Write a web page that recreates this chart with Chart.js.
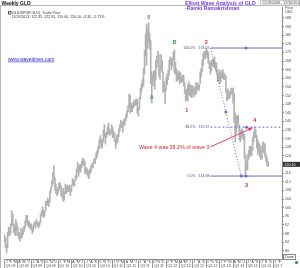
<!DOCTYPE html>
<html>
<head>
<meta charset="utf-8">
<script src="https://cdn.jsdelivr.net/npm/chart.js@4.4.1/dist/chart.umd.min.js"></script>
<style>
  body { margin: 0; background: #fff; }
  canvas { display: block; }
</style>
</head>
<body>
<canvas id="gld" width="300" height="268"></canvas>
<script>
// weekly GLD bars, the first one is the week ending 2009-01-02
const firstWeek = "2009-01-02";
const axisWeeks = 270; // weeks on the x axis, incl. the empty space after the last bar

const weekLow = [
  // 2009
  84, 81.5, 79, 81.5, 87,
  87, 88, 92, 91.5,
  88.5, 87.5, 87, 89.5,
  87, 85.5, 84.5, 86,
  86, 87.5, 89, 90.5, 93,
  92, 91.5, 90.5, 90.5,
  89.5, 88, 89, 91.5, 90.5,
  92.5, 91.5, 90.5, 91.5,
  93, 96, 96.5, 95.5,
  96, 98.5, 101, 101.5, 100.5,
  102.5, 107, 109.5, 111,
  113, 108, 106.5, 105.5,
  // 2010
  106.5, 108, 109, 105.5, 104.5,
  103, 103.5, 106.5, 106.5,
  107.5, 107.5, 107.5, 105.5,
  107.5, 110.5, 110, 110, 112.5,
  113.5, 116.5, 114.5, 116.5,
  116.5, 118.5, 119.5, 120,
  116, 115.5, 115.5, 114.5, 113.5,
  115.5, 116.5, 118.5, 118.5,
  120.5, 120.5, 122.5, 123.5,
  125.5, 127.5, 130, 127.5, 128,
  130.5, 133, 129.5, 132.5,
  134, 134.5, 133.5, 134, 135,
  // 2011
  132.5, 132.5, 130.5, 127.5,
  129.5, 130.5, 133, 135.5,
  137, 137, 135, 138,
  138.5, 140.5, 142, 144.5, 146.5,
  144, 144.5, 144.5, 146,
  147, 147.5, 147.5, 144,
  142.5, 145.5, 150.5, 153.5, 155.5,
  156.5, 162, 170.5, 166,
  174, 177, 173.5, 157.5, 148.5,
  156.5, 158.5, 155, 159.5,
  165, 168, 161, 159.5,
  164, 163, 153.5, 154, 148.3,
  // 2012
  154.5, 157, 159.5, 161.5,
  166.5, 164, 165.5, 168.5,
  162.5, 162, 158.5, 159, 159.5,
  157.5, 158.5, 158, 158.5,
  156.5, 153, 149.4, 150,
  149.5, 152.5, 152, 151.5, 151,
  153, 151.5, 152.5, 152.5,
  154, 155, 154.5, 157.5, 160.5,
  163, 166, 169.5, 169,
  171, 169.5, 167, 164.5,
  162, 163.5, 166, 165.5, 165,
  164, 162.5, 158.5, 159.5,
  // 2013
  157.5, 158.5, 160, 160,
  159.5, 159.5, 153.5, 149.5,
  150.5, 150.5, 151, 152.5, 152.5,
  148.5, 139.5, 130.5, 134.5,
  137.5, 139, 131.5, 130.5, 132,
  133, 131.5, 123, 114.68,
  117.5, 117.5, 122.5, 123.5,
  124.5, 124, 126.5, 130.5, 132.5,
  132.5, 127.5, 124.5, 126.5,
  123.5, 122.5, 122.5, 126,
  125.5, 123.5, 121.5, 119.5, 119
];

const weekHigh = [
  // 2009
  87.5, 86, 83, 88.5, 91,
  90.5, 92.5, 98.6, 97,
  92.5, 91, 94.5, 93,
  91, 88.5, 87.5, 90.5,
  89, 90.5, 91.5, 94, 96.5,
  96.5, 94, 93.5, 92.5,
  92.5, 90.5, 92, 93.5, 93,
  94.5, 93.5, 92.5, 93.5,
  97, 98.5, 100.5, 99,
  98.5, 103, 103, 104.5, 103.5,
  107.5, 109.5, 112.5, 116.5,
  119.5, 114, 111, 108.5,
  // 2010
  109.5, 111.5, 111.5, 110, 107.5,
  109, 107.5, 111, 110,
  110.5, 110, 110.5, 109,
  110.5, 113.5, 113, 112.5, 115,
  118, 121, 119.5, 120,
  120, 121.5, 123, 122.5,
  121.5, 118.5, 118.5, 117.5, 117,
  118, 119.5, 120.5, 121,
  122.5, 123, 125.5, 126.5,
  128.5, 131.5, 133.5, 131.5, 132,
  136, 138.5, 134.5, 135,
  137.5, 139.2, 136.5, 135.5, 138.5,
  // 2011
  137.5, 135.5, 134.5, 131.5,
  133.5, 134, 136.5, 138.5,
  140.5, 140, 139.5, 141,
  141.5, 143.5, 145, 147.5, 152.6,
  152.2, 148.5, 147.5, 149,
  150, 150, 150.5, 150,
  146.5, 151, 155.5, 157.5, 159.5,
  164.5, 173, 180.5, 185.2,
  183, 185.85, 181, 177.5, 163,
  161.5, 163.5, 163.5, 168.5,
  170.5, 172.5, 171, 166,
  171, 168.5, 163, 158.5, 155.5,
  // 2012
  160.5, 162, 164, 168.5,
  170, 169.5, 169, 172.2,
  173.2, 167.5, 164.5, 162.5, 163.5,
  163, 162.5, 160.5, 161.5,
  161.5, 158, 154.5, 155,
  157, 158.5, 157, 157, 156,
  156.5, 155.5, 156, 158,
  158, 157.5, 157, 163, 164.5,
  168.5, 171.5, 172.5, 172.5,
  174.07, 173, 172, 168,
  167, 168.5, 168.5, 169, 170,
  167.5, 167, 164, 162.5,
  // 2013
  164, 162.5, 163.5, 164,
  162.5, 162, 161, 155,
  155, 153.5, 154, 155.5, 155.5,
  155.5, 153, 144, 142.5,
  142.5, 143, 138.5, 135.5, 136.5,
  136.5, 135, 134, 124.5,
  121.5, 124.5, 126.5, 128.5,
  128.5, 128.5, 132.5, 135, 137.37,
  136, 133.5, 131.5, 130,
  129.5, 127, 128.5, 130.5,
  130, 129.5, 125, 123.5, 121.5
];

const lastClose = 120.1;
const lastDate = "11/29/2013";
const priceTicks = [80, 84, 88, 92, 96, 100, 104, 108, 112, 116, 120, 124, 128, 132, 136,
  140, 144, 148, 152, 156, 160, 164, 168, 172, 176, 180, 184, 188];
const monthLetters = ["J", "F", "M", "A", "M", "J", "J", "A", "S", "O", "N", "D"];

// fibonacci retracement drawn over wave 3
const fibNames = ["100.0%", "38.2%", "0.0%"];
const fibValues = [174.07, 137.37, 114.68];
const fibStartWeek = 200;
const fibDiagWeeks = [200, 215, 230];
const fibDiagValues = [174.07, 144.4, 114.68];

// wave counts
const waveNames = ["5", "A", "B", "1", "2", "3", "4"];
const waveWeeks = [140, 143, 165, 177, 196, 235, 243];
const waveValues = [188.6, 151.2, 176.9, 145.3, 176.9, 110.5, 140.7];
const waveGreen = [true, true, true, false, false, false, false];

const noteText = "Wave 4 was 38.2% of wave 3";
const noteFrom = [200, 128.2];
const noteTo = [240.5, 137.0];

const FONT = "'Liberation Sans', Arial, sans-serif";
const FIB_COLOR = "#6a6ad2";

const bars = weekLow.map((lo, i) => ({ x: i, y: [lo, weekHigh[i]] }));

const fibSets = fibValues.map((v, k) => ({
  type: "line",
  data: [{ x: fibStartWeek, y: v }, { x: axisWeeks - 0.5, y: v }],
  borderColor: FIB_COLOR,
  borderWidth: 1,
  borderDash: k === 1 ? [2, 2] : [],
  pointRadius: 0,
  order: 1
}));

const diagSet = {
  type: "line",
  data: fibDiagWeeks.map((w, i) => ({ x: w, y: fibDiagValues[i] })),
  borderColor: FIB_COLOR,
  borderWidth: 1,
  borderDash: [1, 2],
  pointRadius: [0, 1.5, 0],
  pointBackgroundColor: FIB_COLOR,
  pointBorderWidth: 0,
  order: 1
};

const handleSet = {
  type: "line",
  data: [{ x: 234.5, y: fibValues[0] }, { x: 235, y: fibValues[1] }, { x: 230, y: fibValues[2] }, { x: 234.5, y: fibValues[2] }],
  showLine: false,
  pointRadius: 1.5,
  pointBackgroundColor: FIB_COLOR,
  pointBorderWidth: 0,
  order: 0
};

const t0 = Date.parse(firstWeek + "T00:00:00Z");
const weekMonth = [];
const weekYear = [];
for (let i = 0; i < axisWeeks + 14; i++) {
  const d = new Date(t0 + i * 7 * 864e5);
  weekMonth.push(d.getUTCMonth());
  weekYear.push(d.getUTCFullYear());
}

const decor = {
  id: "decor",
  beforeDraw(chart) {
    const ctx = chart.ctx;
    ctx.save();
    ctx.fillStyle = "#fff";
    ctx.fillRect(0, 0, chart.width, chart.height);
    ctx.restore();
  },
  afterDraw(chart) {
    const { ctx, chartArea: a, scales: { x, y } } = chart;
    ctx.save();

    // frame and header
    ctx.strokeStyle = "#b4b4b4";
    ctx.lineWidth = 1;
    ctx.beginPath();
    ctx.moveTo(0, 5.5); ctx.lineTo(300, 5.5);
    ctx.moveTo(0.5, 5.5); ctx.lineTo(0.5, 268);
    ctx.stroke();
    ctx.fillStyle = "#111";
    ctx.font = "bold 5px " + FONT;
    ctx.textBaseline = "alphabetic";
    ctx.fillText("Weekly GLD", 1.5, 4.5);

    ctx.strokeStyle = "#c8c8c8";
    ctx.strokeRect(260.5, 0.5, 39, 4.5);
    ctx.fillStyle = "#444";
    ctx.font = "3.6px " + FONT;
    ctx.fillText("12/28/2008 - 12/30/2013", 262, 4);

    // title
    ctx.fillStyle = "#7a3ee6";
    ctx.font = "bold 5.2px " + FONT;
    ctx.fillText("Elliott Wave Analysis of GLD", 185, 4.6);
    ctx.fillText("-Ramki Ramakrishnan", 185, 9.6);

    // legend
    ctx.strokeStyle = "#555";
    ctx.strokeRect(8.5, 11.5, 2.5, 2.5);
    ctx.fillStyle = "#333";
    ctx.font = "3.6px " + FONT;
    ctx.fillText("GLD(SPDR GLD), Trade Price", 12, 14.2);
    ctx.fillText(lastDate + ": 122.35, 122.95, 119.00, 120.10, -3.35, -2.71%", 11.5, 18);

    ctx.fillStyle = "#2323d8";
    ctx.font = "5px " + FONT;
    ctx.fillText("www.wavetimes.com", 8, 61);
    const uw = ctx.measureText("www.wavetimes.com").width;
    ctx.fillRect(8, 61.6, uw, 0.6);

    // y axis header
    ctx.fillStyle = "#444";
    ctx.font = "3.6px " + FONT;
    ctx.fillText("Price", 285, 9);
    ctx.fillText("USD", 285, 13);

    // x axis
    ctx.strokeStyle = "#8a8a8a";
    ctx.beginPath();
    ctx.moveTo(a.left, a.bottom + 0.5); ctx.lineTo(a.right, a.bottom + 0.5);
    ctx.stroke();
    const monthStarts = [];
    for (let i = 0; i < weekMonth.length; i++) {
      if (i === 0 || weekMonth[i] !== weekMonth[i - 1]) monthStarts.push(i);
    }
    ctx.save();
    ctx.beginPath();
    ctx.rect(a.left - 2, a.bottom, a.right - a.left + 2, 268 - a.bottom);
    ctx.clip();
    ctx.font = "3.6px " + FONT;
    ctx.textAlign = "center";
    for (let k = 0; k < monthStarts.length - 1; k++) {
      const s = monthStarts[k], e = monthStarts[k + 1];
      const m = weekMonth[s];
      const cx = x.getPixelForValue((s + e) / 2 - 0.5);
      const bx = Math.round(x.getPixelForValue(s - 0.5)) + 0.5;
      ctx.strokeStyle = "#999";
      ctx.beginPath();
      ctx.moveTo(bx, a.bottom);
      ctx.lineTo(bx, m % 3 === 0 ? 268 : a.bottom + 2);
      ctx.stroke();
      ctx.fillStyle = "#444";
      ctx.fillText(monthLetters[m], cx, a.bottom + 4.2);
      if (m % 3 === 0) {
        const q = monthStarts[Math.min(k + 3, monthStarts.length - 1)];
        const qx = x.getPixelForValue((s + q) / 2 - 0.5);
        ctx.fillText("Q" + (m / 3 + 1) + " " + String(weekYear[s] % 100).padStart(2, "0"), qx, a.bottom + 8.2);
      }
    }
    ctx.restore();

    // fib labels
    ctx.fillStyle = "#4a4a9a";
    ctx.font = "3.6px " + FONT;
    ctx.textAlign = "right";
    fibValues.forEach((v, k) => {
      const py = y.getPixelForValue(v);
      ctx.fillText(fibNames[k] + "   " + v.toFixed(2), x.getPixelForValue(fibStartWeek) - 1, py + 1.3);
    });

    // wave labels
    ctx.textAlign = "center";
    ctx.font = "bold 5.5px " + FONT;
    waveNames.forEach((t, k) => {
      ctx.fillStyle = waveGreen[k] ? "#2a9a3a" : "#e02a2a";
      ctx.fillText(t, x.getPixelForValue(waveWeeks[k]), y.getPixelForValue(waveValues[k]) + 2);
    });

    // note with arrow
    const x1 = x.getPixelForValue(noteFrom[0]), y1 = y.getPixelForValue(noteFrom[1]);
    const x2 = x.getPixelForValue(noteTo[0]), y2 = y.getPixelForValue(noteTo[1]);
    ctx.strokeStyle = "#e8407c";
    ctx.fillStyle = "#e8407c";
    ctx.lineWidth = 1;
    ctx.beginPath(); ctx.moveTo(x1, y1); ctx.lineTo(x2, y2); ctx.stroke();
    const ang = Math.atan2(y2 - y1, x2 - x1);
    ctx.beginPath();
    ctx.moveTo(x2 + 1, y2 + Math.sin(ang));
    ctx.lineTo(x2 - 4 * Math.cos(ang) + 2 * Math.sin(ang), y2 - 4 * Math.sin(ang) - 2 * Math.cos(ang));
    ctx.lineTo(x2 - 4 * Math.cos(ang) - 2 * Math.sin(ang), y2 - 4 * Math.sin(ang) + 2 * Math.cos(ang));
    ctx.closePath(); ctx.fill();
    ctx.fillStyle = "#e0242c";
    ctx.font = "5.4px " + FONT;
    ctx.textAlign = "right";
    ctx.fillText(noteText, x1 - 1, y1 + 2);

    // last price tag
    const ly = y.getPixelForValue(lastClose);
    ctx.fillStyle = "#333";
    ctx.fillRect(a.right + 1, ly - 2.5, 17, 5);
    ctx.fillStyle = "#fff";
    ctx.font = "3.6px " + FONT;
    ctx.textAlign = "left";
    ctx.fillText(lastClose.toFixed(2), a.right + 2.5, ly + 1.3);

    // zoom box and status dot
    ctx.strokeStyle = "#888";
    ctx.strokeRect(283.5, 254.5, 12, 5);
    ctx.fillStyle = "#333";
    ctx.fillText("Zoom", 284.5, 258.4);
    ctx.fillStyle = "#1a9a2a";
    ctx.beginPath(); ctx.arc(296.5, 262.5, 1.6, 0, Math.PI * 2); ctx.fill();

    ctx.restore();
  }
};

new Chart(document.getElementById("gld"), {
  type: "bar",
  data: {
    datasets: [
      {
        type: "bar",
        data: bars,
        backgroundColor: "#b2b2b2",
        barThickness: 1,
        order: 10
      },
      ...fibSets,
      diagSet,
      handleSet
    ]
  },
  options: {
    responsive: false,
    animation: false,
    events: [],
    layout: { padding: { left: 3, top: 7, right: 0, bottom: 9 } },
    plugins: { legend: { display: false }, tooltip: { enabled: false } },
    scales: {
      x: { type: "linear", offset: false, grid: { offset: false }, min: -0.5, max: axisWeeks - 0.5, display: false },
      y: {
        position: "right",
        min: 76.2,
        max: 193.1,
        afterFit(s) { s.width = 18; },
        afterBuildTicks(s) { s.ticks = priceTicks.map(v => ({ value: v })); },
        ticks: {
          autoSkip: false,
          font: { family: FONT, size: 3.6 },
          color: "#444",
          padding: 1
        },
        grid: { drawOnChartArea: false, tickLength: 2, color: "#8a8a8a" },
        border: { color: "#8a8a8a" }
      }
    }
  },
  plugins: [decor]
});
</script>
</body>
</html>
